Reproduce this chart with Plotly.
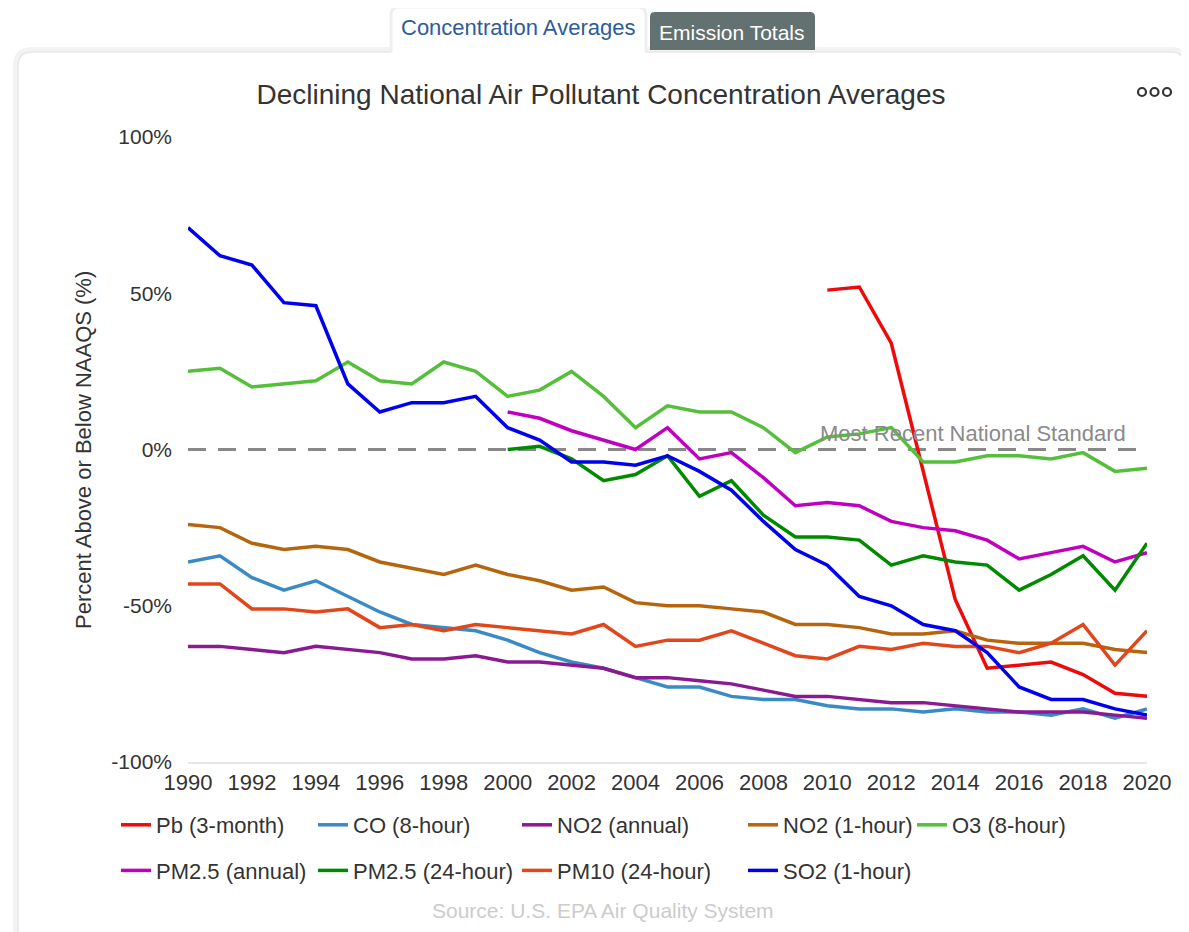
import plotly.graph_objects as go

# ── Data (percent above/below NAAQS) ──────────────────────────────────────────

YEARS = list(range(1990, 2021))
YEARS_PB = list(range(2010, 2021))
YEARS_PM25 = list(range(2000, 2021))

PB_3MONTH = [51, 52, 34, -7, -48, -70, -69, -68, -72, -78, -79]
CO_8HOUR = [-36, -34, -41, -45, -42, -47, -52, -56, -57, -58, -61, -65, -68, -70, -73, -76,
            -76, -79, -80, -80, -82, -83, -83, -84, -83, -84, -84, -85, -83, -86, -83]
NO2_ANNUAL = [-63, -63, -64, -65, -63, -64, -65, -67, -67, -66, -68, -68, -69, -70, -73, -73,
              -74, -75, -77, -79, -79, -80, -81, -81, -82, -83, -84, -84, -84, -85, -86]
NO2_1HOUR = [-24, -25, -30, -32, -31, -32, -36, -38, -40, -37, -40, -42, -45, -44, -49, -50,
             -50, -51, -52, -56, -56, -57, -59, -59, -58, -61, -62, -62, -62, -64, -65]
O3_8HOUR = [25, 26, 20, 21, 22, 28, 22, 21, 28, 25, 17, 19, 25, 17, 7, 14,
            12, 12, 7, -1, 4, 5, 7, -4, -4, -2, -2, -3, -1, -7, -6]
PM25_ANNUAL = [12, 10, 6, 3, 0, 7, -3, -1, -9, -18, -17, -18, -23, -25, -26, -29,
               -35, -33, -31, -36, -33]
PM25_24HOUR = [0, 1, -3, -10, -8, -2, -15, -10, -21, -28, -28, -29, -37, -34, -36, -37,
               -45, -40, -34, -45, -30]
PM10_24HOUR = [-43, -43, -51, -51, -52, -51, -57, -56, -58, -56, -57, -58, -59, -56, -63, -61,
               -61, -58, -62, -66, -67, -63, -64, -62, -63, -63, -65, -62, -56, -69, -58]
SO2_1HOUR = [71, 62, 59, 47, 46, 21, 12, 15, 15, 17, 7, 3, -4, -4, -5, -2,
             -7, -13, -23, -32, -37, -47, -50, -56, -58, -65, -76, -80, -80, -83, -85]

X_TICKS = list(range(1990, 2021, 2))
Y_TICKS = [-100, -50, 0, 50, 100]
Y_TICK_TEXT = [f"{v}%" for v in Y_TICKS]

# ── Palette ───────────────────────────────────────────────────────────────────

COLORS = {
    "pb":      "#ee0a0a",
    "co":      "#3c8ac4",
    "no2a":    "#8a1a92",
    "no2h":    "#b5650d",
    "o3":      "#55bf3b",
    "pm25a":   "#c000c0",
    "pm25d":   "#008a00",
    "pm10":    "#e2461b",
    "so2":     "#0000ee",
    "text":    "#333333",
    "muted":   "#8a8a8a",
    "axis":    "#e6e6e6",
    "tab":     "#637270",
    "tabtext": "#2d5b9b",
}

FONT = "Helvetica, Arial, sans-serif"

# page is 1189 x 932, the html body adds an 8px margin around the figure
PAGE_W, PAGE_H, BODY = 1189, 932, 8
# plot area in page pixels
L, R, T, B = 188, 1147, 137, 762
W, H = R - L, B - T


def px(x, y):
    """page pixel -> paper coords"""
    return (x - L) / W, (B - y) / H


def _path(points, close=True):
    parts = []
    for cmd, x, y in points:
        xp, yp = px(x, y)
        parts.append(f"{cmd}{xp:.5f},{yp:.5f}")
    return " ".join(parts) + (" Z" if close else "")


def _rounded_top(x0, y0, x1, y1, r):
    return _path([
        ("M", x0, y1), ("L", x0, y0 + r), ("Q", x0, y0), ("", x0 + r, y0),
        ("L", x1 - r, y0), ("Q", x1, y0), ("", x1, y0 + r), ("L", x1, y1),
    ])


fig = go.Figure()

# legend columns: each column is its own small vertical legend
SERIES = [
    ("Pb (3-month)", YEARS_PB, PB_3MONTH, "pb", "legend"),
    ("CO (8-hour)", YEARS, CO_8HOUR, "co", "legend2"),
    ("NO2 (annual)", YEARS, NO2_ANNUAL, "no2a", "legend3"),
    ("NO2 (1-hour)", YEARS, NO2_1HOUR, "no2h", "legend4"),
    ("O3 (8-hour)", YEARS, O3_8HOUR, "o3", "legend5"),
    ("PM2.5 (annual)", YEARS_PM25, PM25_ANNUAL, "pm25a", "legend"),
    ("PM2.5 (24-hour)", YEARS_PM25, PM25_24HOUR, "pm25d", "legend2"),
    ("PM10 (24-hour)", YEARS, PM10_24HOUR, "pm10", "legend3"),
    ("SO2 (1-hour)", YEARS, SO2_1HOUR, "so2", "legend4"),
]

for name, xs, ys, key, leg in SERIES:
    fig.add_trace(go.Scatter(
        x=xs, y=ys, name=name, mode="lines",
        line=dict(color=COLORS[key], width=3.5),
        legend=leg, legendgroup=key,
        hovertemplate="%{x}<br>" + name + ": %{y}%<extra></extra>",
    ))

# ── Card + tabs ───────────────────────────────────────────────────────────────

shapes = [
    dict(type="path", path=_rounded_top(16, 50, 1187, 990, 16),
         line=dict(color="#f3f3f3", width=6), fillcolor="white"),
    dict(type="path", path=_rounded_top(18, 52, 1185, 990, 14),
         line=dict(color="#e7e7e7", width=1.5), fillcolor="white"),
    dict(type="path", path=_rounded_top(391, 7, 646, 60, 8),
         line=dict(color="#efefef", width=3), fillcolor="white"),
    dict(type="rect", x0=px(389, 0)[0], x1=px(648, 0)[0], y0=px(0, 53)[1], y1=px(0, 70)[1],
         line=dict(width=0), fillcolor="white"),
    dict(type="path", path=_rounded_top(650, 12, 815, 50, 5),
         line=dict(width=0), fillcolor=COLORS["tab"]),
]
for shp in shapes:
    shp.update(xref="paper", yref="paper", layer="below")

# dashed standard line at 0%
shapes.append(dict(
    type="line", xref="x", yref="y", x0=YEARS[0], x1=YEARS[-1], y0=0, y1=0,
    line=dict(color="#888888", width=3, dash="18px,12px"), layer="below",
))

# context menu dots
for cx in (1142, 1154.5, 1167):
    x0, y0 = px(cx - 4, 92 + 4)
    x1, y1 = px(cx + 4, 92 - 4)
    shapes.append(dict(type="circle", xref="paper", yref="paper",
                       x0=x0, x1=x1, y0=y0, y1=y1,
                       line=dict(color="#333333", width=2.2)))

fig.update_layout(shapes=shapes)

# ── Annotations ───────────────────────────────────────────────────────────────

def _note(text, x, y, size, color, xanchor="center", **kw):
    xp, yp = px(x, y)
    fig.add_annotation(text=text, xref="paper", yref="paper", x=xp, y=yp,
                       xanchor=xanchor, yanchor="middle", showarrow=False,
                       font=dict(family=FONT, size=size, color=color), **kw)


_note("Concentration Averages", 518, 28, 22, COLORS["tabtext"])
_note("Emission Totals", 732, 32, 21, "white")
_note("Percent Above or Below NAAQS (%)", 83, 450, 22, COLORS["text"], textangle=-90)
_note("Most Recent National Standard", 1128, 433, 22, COLORS["muted"], xanchor="right")
_note("Source: U.S. EPA Air Quality System", 603, 910, 21, "#cccccc")

# ── Layout ────────────────────────────────────────────────────────────────────

LEGEND_COLS = [116, 313, 517, 743, 912]   # left edge of each legend column, page px
LEGEND_TOP = 804


def _legend(x_px):
    return dict(
        orientation="v", xanchor="left", yanchor="top",
        x=px(x_px, 0)[0], y=px(0, LEGEND_TOP)[1], tracegroupgap=14,
        bgcolor="rgba(0,0,0,0)", font=dict(family=FONT, size=22, color=COLORS["text"]),
    )


fig.update_layout(
    width=PAGE_W - BODY, height=PAGE_H - BODY,
    paper_bgcolor="white", plot_bgcolor="rgba(0,0,0,0)",
    font=dict(family=FONT, color=COLORS["text"], size=20),
    margin=dict(l=L - BODY, r=PAGE_W - R, t=T - BODY, b=PAGE_H - B, autoexpand=False),
    title=dict(
        text="Declining National Air Pollutant Concentration Averages",
        x=(601 - BODY) / (PAGE_W - BODY), xref="container", xanchor="center",
        y=1 - (94 - BODY) / (PAGE_H - BODY), yref="container", yanchor="middle",
        font=dict(family=FONT, size=28, color=COLORS["text"]),
    ),
    legend=_legend(LEGEND_COLS[0]),
    legend2=_legend(LEGEND_COLS[1]),
    legend3=_legend(LEGEND_COLS[2]),
    legend4=_legend(LEGEND_COLS[3]),
    legend5=_legend(LEGEND_COLS[4]),
    hovermode="closest",
)

fig.update_xaxes(
    range=[YEARS[0], YEARS[-1]], tickvals=X_TICKS, showgrid=False, zeroline=False,
    showline=True, linecolor=COLORS["axis"], linewidth=2, ticks="",
    ticklabelstandoff=0, tickfont=dict(family=FONT, size=22, color=COLORS["text"]),
)
fig.update_yaxes(
    range=[-100, 100], tickvals=Y_TICKS, ticktext=Y_TICK_TEXT, showgrid=False,
    zeroline=False, showline=False, ticks="", ticklabelstandoff=15,
    tickfont=dict(family=FONT, size=21, color=COLORS["text"]),
)

fig.write_html("out.html")
